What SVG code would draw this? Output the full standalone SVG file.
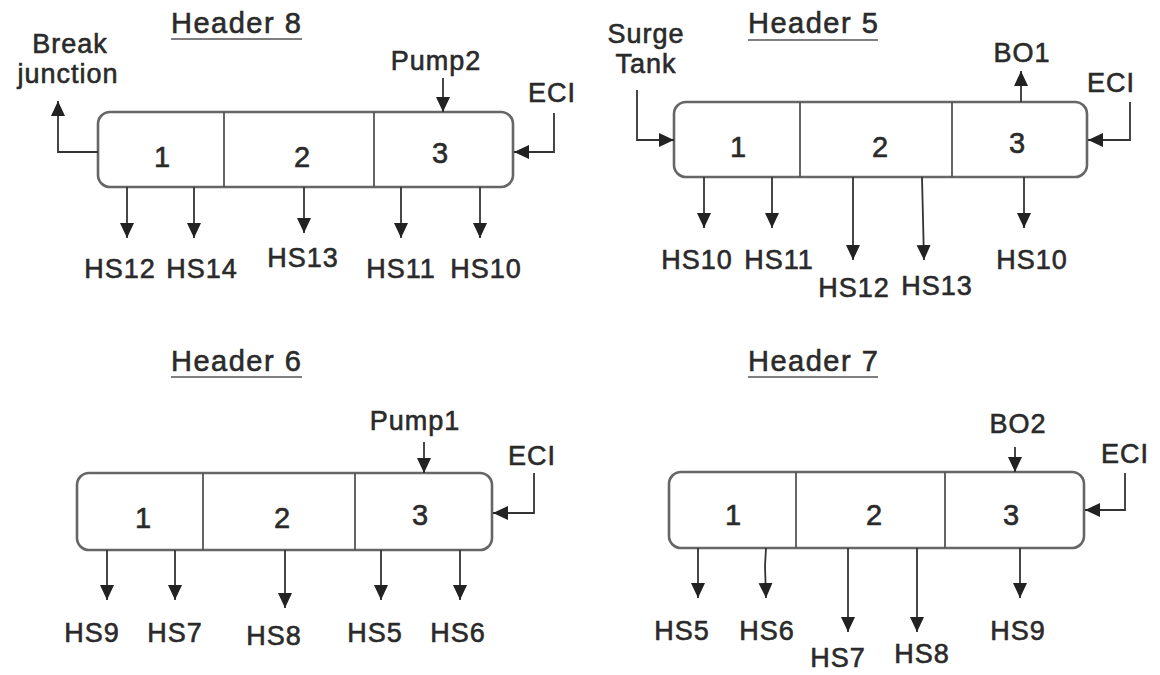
<svg xmlns="http://www.w3.org/2000/svg" width="1160" height="675" viewBox="0 0 1160 675">
<defs>
<marker id="ah" markerUnits="userSpaceOnUse" markerWidth="16" markerHeight="15" refX="15" refY="7" orient="auto">
<path d="M0,0 L15,7 L0,14 z" fill="#222"/>
</marker>
<style>
text{font-family:"Liberation Sans",Arial,sans-serif;fill:#2a2a2a;stroke:#2a2a2a;stroke-width:0.6}
.t{font-size:29px;letter-spacing:1.5px}
.ul{stroke:#555;stroke-width:1.6}
.box{fill:#fff;stroke:#666;stroke-width:2.6}
.div{stroke:#555;stroke-width:1.8}
.n{font-size:29px;text-anchor:middle}
.l{font-size:27px;letter-spacing:1px;text-anchor:middle}
.c path,.c line{fill:none;stroke:#333;stroke-width:1.8;marker-end:url(#ah)}
</style>
</defs>
<rect width="1160" height="675" fill="#fff"/>

<g id="header8">
<text class="t" x="171" y="33">Header 8</text>
<line class="ul" x1="171" y1="39" x2="302" y2="39"/>
<rect class="box" x="98" y="112" width="415" height="75" rx="12"/>
<line class="div" x1="224" y1="112" x2="224" y2="187"/>
<line class="div" x1="374" y1="112" x2="374" y2="187"/>
<text class="n" x="162" y="167">1</text>
<text class="n" x="302" y="167">2</text>
<text class="n" x="440" y="163">3</text>
</g>
<g id="header5">
<text class="t" x="748" y="33">Header 5</text>
<line class="ul" x1="748" y1="40" x2="878" y2="40"/>
<rect class="box" x="674" y="102" width="413" height="75" rx="12"/>
<line class="div" x1="800" y1="102" x2="800" y2="177"/>
<line class="div" x1="952" y1="102" x2="952" y2="177"/>
<text class="n" x="738" y="157">1</text>
<text class="n" x="880" y="157">2</text>
<text class="n" x="1017" y="153">3</text>
</g>
<g id="header6">
<text class="t" x="171" y="371">Header 6</text>
<line class="ul" x1="171" y1="377" x2="302" y2="377"/>
<rect class="box" x="77" y="473" width="415" height="77" rx="12"/>
<line class="div" x1="203" y1="473" x2="203" y2="550"/>
<line class="div" x1="355" y1="473" x2="355" y2="550"/>
<text class="n" x="143" y="528">1</text>
<text class="n" x="282" y="528">2</text>
<text class="n" x="420" y="525">3</text>
</g>
<g id="header7">
<text class="t" x="748" y="371">Header 7</text>
<line class="ul" x1="748" y1="377" x2="878" y2="377"/>
<rect class="box" x="669" y="472" width="415" height="76" rx="12"/>
<line class="div" x1="796" y1="472" x2="796" y2="548"/>
<line class="div" x1="945" y1="472" x2="945" y2="548"/>
<text class="n" x="733" y="525">1</text>
<text class="n" x="874" y="525">2</text>
<text class="n" x="1011" y="525">3</text>
</g>

<g id="labels8">
<text class="l" x="70" y="53">Break</text>
<text class="l" x="68" y="83">junction</text>
<text class="l" x="436" y="70">Pump2</text>
<text class="l" x="552" y="102">ECI</text>
<text class="l" x="120" y="278">HS12</text>
<text class="l" x="202" y="278">HS14</text>
<text class="l" x="303" y="267">HS13</text>
<text class="l" x="401" y="278">HS11</text>
<text class="l" x="486" y="278">HS10</text>
</g>
<g id="labels5">
<text class="l" x="646" y="43">Surge</text>
<text class="l" x="646" y="73">Tank</text>
<text class="l" x="1022" y="62">BO1</text>
<text class="l" x="1111" y="92">ECI</text>
<text class="l" x="697" y="269">HS10</text>
<text class="l" x="779" y="269">HS11</text>
<text class="l" x="854" y="297">HS12</text>
<text class="l" x="937" y="295">HS13</text>
<text class="l" x="1032" y="269">HS10</text>
</g>
<g id="labels6">
<text class="l" x="415" y="430">Pump1</text>
<text class="l" x="532" y="465">ECI</text>
<text class="l" x="92" y="642">HS9</text>
<text class="l" x="175" y="642">HS7</text>
<text class="l" x="274" y="645">HS8</text>
<text class="l" x="375" y="642">HS5</text>
<text class="l" x="458" y="642">HS6</text>
</g>
<g id="labels7">
<text class="l" x="1018" y="433">BO2</text>
<text class="l" x="1125" y="463">ECI</text>
<text class="l" x="682" y="640">HS5</text>
<text class="l" x="767" y="640">HS6</text>
<text class="l" x="838" y="667">HS7</text>
<text class="l" x="922" y="663">HS8</text>
<text class="l" x="1018" y="640">HS9</text>
</g>

<g id="connectors" class="c">
<path d="M98,152 H58 V101"/>
<line x1="443" y1="78" x2="443" y2="112"/>
<path d="M554,113 V152 H514"/>
<line x1="127" y1="187" x2="127" y2="238"/>
<line x1="194" y1="187" x2="194" y2="238"/>
<line x1="304" y1="187" x2="304" y2="233"/>
<line x1="401" y1="187" x2="401" y2="238"/>
<line x1="480" y1="187" x2="480" y2="238"/>

<path d="M637,90 V140 H674"/>
<line x1="1021" y1="102" x2="1021" y2="71"/>
<path d="M1130,102 V140 H1088"/>
<line x1="704" y1="177" x2="704" y2="228"/>
<line x1="772" y1="177" x2="772" y2="228"/>
<line x1="853" y1="177" x2="853" y2="260"/>
<line x1="922" y1="177" x2="924" y2="260"/>
<line x1="1024" y1="177" x2="1024" y2="228"/>

<line x1="424" y1="442" x2="424" y2="473"/>
<path d="M534,473 V513 H493"/>
<line x1="107" y1="550" x2="107" y2="600"/>
<line x1="175" y1="550" x2="175" y2="600"/>
<line x1="285" y1="550" x2="285" y2="608"/>
<line x1="381" y1="550" x2="381" y2="600"/>
<line x1="460" y1="550" x2="460" y2="600"/>

<line x1="1015" y1="447" x2="1015" y2="472"/>
<path d="M1125,473 V510 H1085"/>
<line x1="698" y1="548" x2="698" y2="598"/>
<path d="M766,548 L765,566 L766,598"/>
<line x1="848" y1="548" x2="848" y2="632"/>
<line x1="917" y1="548" x2="917" y2="632"/>
<line x1="1020" y1="548" x2="1020" y2="598"/>
</g>
</svg>
